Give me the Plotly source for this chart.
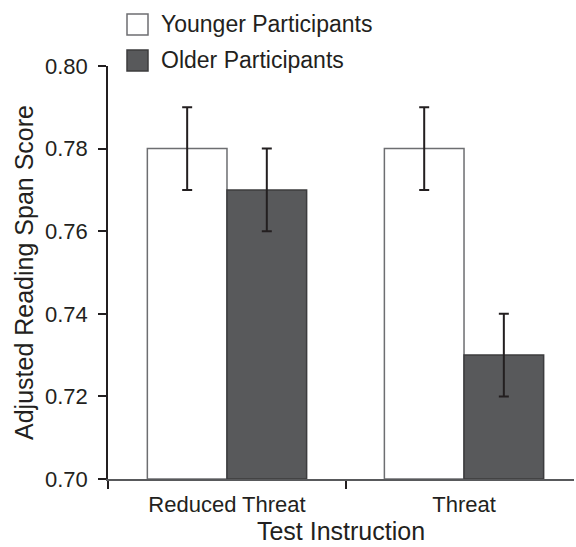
import plotly.graph_objects as go

categories = ["Reduced Threat", "Threat"]
series_names = ["Younger Participants", "Older Participants"]
younger = [0.78, 0.78]
older = [0.77, 0.73]
younger_err = [0.01, 0.01]
older_err = [0.01, 0.01]
y_ticks = [0.70, 0.72, 0.74, 0.76, 0.78, 0.80]

TXT = "#231f20"
FONT = "Liberation Sans, Arial, sans-serif"
fills = ["#ffffff", "#58595b"]
lines = ["#6d6e71", "#3c3c3e"]

fig = go.Figure()
for name, vals, errs, fc, lc in zip(series_names, [younger, older], [younger_err, older_err], fills, lines):
    fig.add_trace(go.Bar(
        x=categories, y=[v - 0.70 for v in vals], base=0.70, name=name,
        marker=dict(color=fc, line=dict(color=lc, width=1.5)),
        error_y=dict(type="data", array=errs, color=TXT, thickness=2, width=5),
        showlegend=False,
    ))

# custom legend (large square swatches)
W, H = 576, 547
L, R, T, B = 108, 2, 66, 68
pw, ph = W - L - R, H - T - B
def px(x):
    return (x - L) / pw
def py(y):
    return (H - B - y) / ph

swatch_y = [(14, 35), (50, 71)]
for (y0, y1), fc, lc, name in zip(swatch_y, fills, lines, series_names):
    fig.add_shape(type="rect", xref="paper", yref="paper",
                  x0=px(127), x1=px(148), y0=py(y1), y1=py(y0),
                  fillcolor=fc, line=dict(color=lc, width=1.5))
    fig.add_annotation(xref="paper", yref="paper", x=px(159), y=py((y0 + y1) / 2),
                       text=name, showarrow=False, xanchor="left", yanchor="middle",
                       font=dict(size=23, color=TXT, family=FONT))

fig.update_layout(
    width=W, height=H,
    margin=dict(l=L, r=R, t=T, b=B),
    plot_bgcolor="white", paper_bgcolor="white",
    barmode="group", bargap=0.328, bargroupgap=0,
    font=dict(family=FONT, color=TXT, size=22),
)
fig.update_xaxes(
    range=[-0.502, 1.464], showline=True, linecolor="#58595b", linewidth=1.5,
    ticks="outside", tickson="boundaries", ticklen=8, tickcolor=TXT, tickwidth=1.5,
    showgrid=False, zeroline=False,
    tickfont=dict(size=22, color=TXT, family=FONT),
    ticklabelstandoff=5,
    title=dict(text="Test Instruction", font=dict(size=25, color=TXT, family=FONT), standoff=6),
)
fig.update_yaxes(
    range=[0.70, 0.80], tickvals=y_ticks, tickformat=".2f",
    showline=True, linecolor=TXT, linewidth=1.5,
    ticks="outside", ticklen=8, tickcolor=TXT, tickwidth=1.5,
    showgrid=False, zeroline=False,
    tickfont=dict(size=22, color=TXT, family=FONT),
    ticklabelstandoff=6,
    title=dict(text="Adjusted Reading Span Score", font=dict(size=25, color=TXT, family=FONT), standoff=4),
)

fig.write_html("out.html", config={"displayModeBar": False},
               post_script="document.body.style.margin='0';")
